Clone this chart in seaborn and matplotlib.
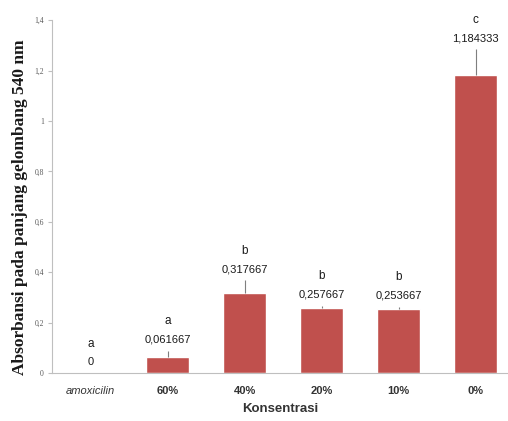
import matplotlib
matplotlib.use("Agg")
import matplotlib.pyplot as plt
import seaborn as sns
import pandas as pd

categories = ["amoxicilin", "60%", "40%", "20%", "10%", "0%"]
absorbansi = [0.0, 0.061667, 0.317667, 0.257667, 0.253667, 1.184333]
galat = [0.0, 0.027, 0.05, 0.01, 0.01, 0.1]
huruf = ["a", "a", "b", "b", "b", "c"]
label_nilai = ["0", "0,061667", "0,317667", "0,257667", "0,253667", "1,184333"]

df = pd.DataFrame({"Konsentrasi": categories, "Absorbansi": absorbansi})

sns.set_style("white")
fig = plt.figure(figsize=(5.08, 4.21), dpi=100)
ax = fig.add_axes([0.103, 0.114, 0.897, 0.838])

sns.barplot(data=df, x="Konsentrasi", y="Absorbansi", color="#C0504D",
            saturation=1, width=0.56, errorbar=None, ax=ax)
ax.errorbar(range(len(categories)), absorbansi, yerr=[[0] * len(galat), galat],
            fmt="none", ecolor="#7f7f7f", elinewidth=0.8, capsize=0)

for i, (v, e) in enumerate(zip(absorbansi, galat)):
    top = v + e
    ax.annotate(label_nilai[i], (i, top), xytext=(0, 8), textcoords="offset points",
                ha="center", va="center", fontsize=8, color="#1a1a1a",
                family="Liberation Sans")
    ax.annotate(huruf[i], (i, top), xytext=(0, 21), textcoords="offset points",
                ha="center", va="center", fontsize=8.5, color="#1a1a1a",
                family="Liberation Sans")

ax.set_ylim(0, 1.4)
ax.set_xlim(-0.5, 5.42)
ticks = [0, 0.2, 0.4, 0.6, 0.8, 1.0, 1.2, 1.4]
ax.set_yticks(ticks)
ax.set_yticklabels(["0", "0,2", "0,4", "0,6", "0,8", "1", "1,2", "1,4"],
                   fontsize=5.5, color="#595959", family="Liberation Serif")
ax.tick_params(axis="y", length=3, color="#bfbfbf", pad=3, left=True)
ax.tick_params(axis="x", length=0, pad=9)
for lab in ax.get_xticklabels():
    lab.set_fontsize(8)
    lab.set_color("#333333")
    lab.set_family("Liberation Sans")
    lab.set_fontweight("bold")
ax.get_xticklabels()[0].set_style("italic")
ax.get_xticklabels()[0].set_fontweight("normal")

ax.set_xlabel("Konsentrasi", fontsize=9.5, fontweight="bold", color="#333333",
              family="Liberation Sans")
ax.xaxis.set_label_coords(0.5, -0.085)
ax.set_ylabel("Absorbansi pada panjang gelombang 540 nm", fontsize=12.5,
              fontweight="bold", family="Liberation Serif", color="#1a1a1a")
ax.yaxis.set_label_coords(-0.053, 0.47)

sns.despine(ax=ax)
for s in ["left", "bottom"]:
    ax.spines[s].set_color("#bfbfbf")
    ax.spines[s].set_linewidth(0.8)

fig.savefig("out.png", dpi=100)
